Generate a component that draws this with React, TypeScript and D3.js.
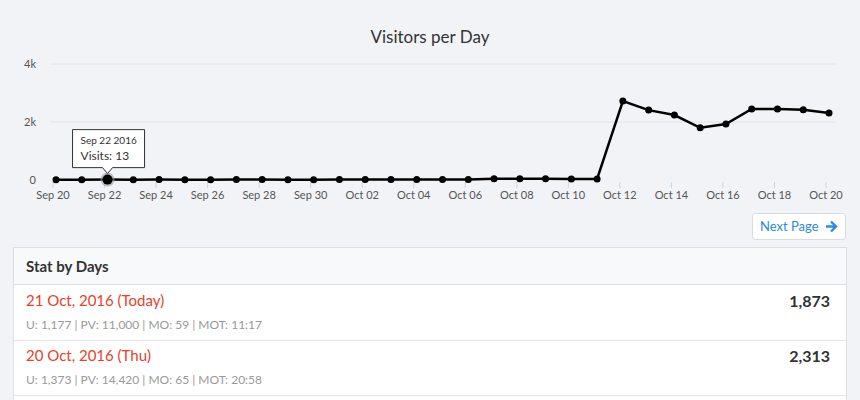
import * as d3 from "d3";

const dates = d3.timeDays(new Date(2016, 8, 20), new Date(2016, 9, 21));
const visits = [
  12, 10, 13, 11, 14, 12, 10, 15, 13, 12, 11, 14, 16, 13, 15, 18, 20, 40, 45, 42, 38, 35,
  2720, 2410, 2240, 1800, 1930, 2450, 2450, 2420, 2313,
];
const yTicks = [0, 2000, 4000];
const rows = [
  { title: "21 Oct, 2016 (Today)", sub: "U: 1,177 | PV: 11,000 | MO: 59 | MOT: 11:17", total: "1,873" },
  { title: "20 Oct, 2016 (Thu)", sub: "U: 1,373 | PV: 14,420 | MO: 65 | MOT: 20:58", total: "2,313" },
];

const FONT = "Lato, 'Open Sans', sans-serif";
const W = 860, H = 400;

export default function App() {
  const x = d3.scaleTime().domain([dates[0], dates[dates.length - 1]]).range([56, 829]);
  const y = d3.scaleLinear().domain([0, 4000]).range([180, 64]);
  const line = d3.line<number>().x((_, i) => x(dates[i])).y((d) => y(d));
  const xTicks = dates.filter((_, i) => i % 2 === 0);
  const fmt = d3.timeFormat("%b %d");
  const hi = 2;
  return (
    <svg width={W} height={H} style={{ position: "fixed", left: 0, top: 0 }} fontFamily={FONT}>
      <rect width={W} height={H} fill="#f2f3f7" />
      <text x={430} y={43} textAnchor="middle" fontSize={17} fill="#333">Visitors per Day</text>
      {yTicks.map((t) => (
        <g key={t}>
          {t > 0 && <line x1={50} x2={836} y1={y(t)} y2={y(t)} stroke="#e3e4e8" />}
          <text x={36} y={y(t) + 4} textAnchor="end" fontSize={11} fill="#555">{t === 0 ? "0" : `${t / 1000}k`}</text>
        </g>
      ))}
      {xTicks.map((t) => (
        <g key={+t}>
          <line x1={x(t) - 3} x2={x(t) - 3} y1={182} y2={188} stroke="#c8d6e6" />
          <text x={x(t) - 3} y={199} textAnchor="middle" fontSize={11} fill="#555">{fmt(t)}</text>
        </g>
      ))}
      <path d={line(visits)!} fill="none" stroke="#000" strokeWidth={2.5} />
      {visits.map((v, i) => (
        <circle key={i} cx={x(dates[i])} cy={y(v)} r={3.5} fill="#000" />
      ))}
      <circle cx={x(dates[hi])} cy={y(visits[hi])} r={7} fill="#999" opacity={0.6} />
      <circle cx={x(dates[hi])} cy={y(visits[hi])} r={5} fill="#000" />
      <g transform={`translate(${x(dates[hi])},${y(visits[hi]) - 9})`}>
        <path d="M-35,-41 H37 V-3 H5 L0,3 L-5,-3 H-35 Z" fill="#fff" stroke="#333" strokeWidth={1} />
        <text x={-27} y={-27} fontSize={10} fill="#333">Sep 22 2016</text>
        <text x={-27} y={-11} fontSize={12} fill="#333">Visits: 13</text>
      </g>
      <rect x={752.5} y={213.5} width={93} height={26} rx={3} fill="#fff" stroke="#d8dbe0" />
      <text x={760} y={231} fontSize={13} fill="#2a8be0">Next Page</text>
      <path d="M826,226.5 H836 M831,221.5 L836,226.5 L831,231.5" stroke="#2a8be0" strokeWidth={2.4} fill="none" />
      <rect x={13.5} y={247.5} width={833} height={170} fill="#fff" stroke="#dcdfe4" />
      <rect x={14} y={248} width={832} height={36} fill="#f8f9fb" />
      <line x1={14} x2={846} y1={284.5} y2={284.5} stroke="#dcdfe4" />
      <text x={26} y={272} fontSize={15} fontWeight="bold" fill="#333">Stat by Days</text>
      {rows.map((r, i) => (
        <g key={i} transform={`translate(0,${285 + i * 55})`}>
          <text x={26} y={21} fontSize={15} fill="#e8402a">{r.title}</text>
          <text x={26} y={44} fontSize={12} fill="#999">{r.sub}</text>
          <text x={830} y={22} textAnchor="end" fontSize={16} fontWeight="bold" fill="#333">{r.total}</text>
          <line x1={14} x2={846} y1={55.5} y2={55.5} stroke="#e3e5e9" />
        </g>
      ))}
    </svg>
  );
}
